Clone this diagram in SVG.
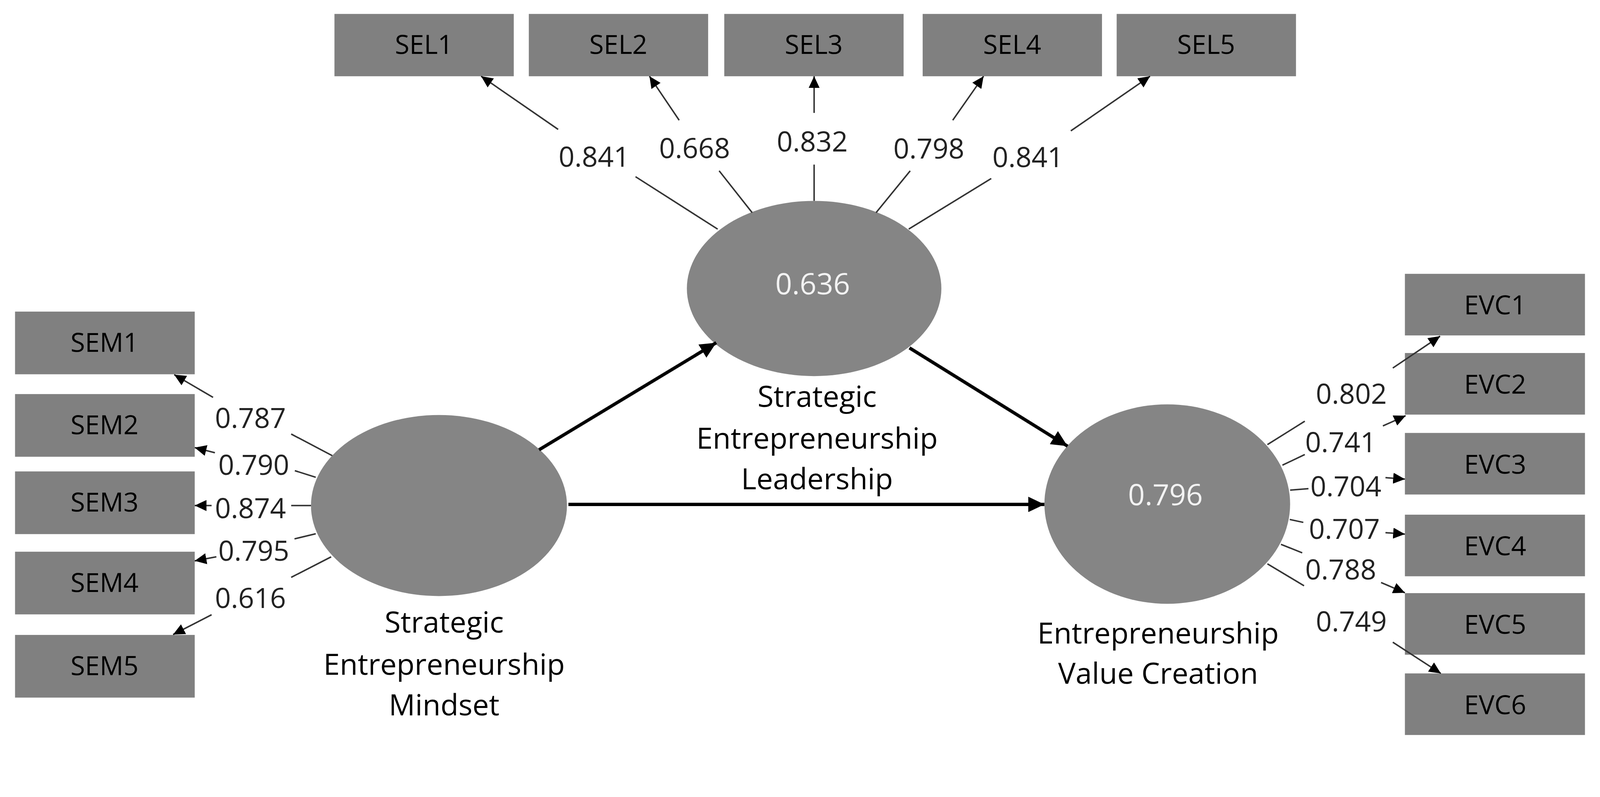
<svg xmlns="http://www.w3.org/2000/svg" width="4363" height="2041" viewBox="0 0 4363 2041" style="max-width:100%;height:auto">
<style>
.box{fill:#808080}
.lat{fill:#858585}
.bt{font-family:"Open Sans","Noto Sans",sans-serif;font-size:72px;fill:#000;text-anchor:middle}
.ld{font-family:"Open Sans","Noto Sans",sans-serif;font-size:76px;fill:#222;text-anchor:middle}
.cn{font-family:"Open Sans","Noto Sans",sans-serif;font-size:80px;fill:#000;text-anchor:middle}
.r2{font-family:"Open Sans","Noto Sans",sans-serif;font-size:80px;fill:#f2f2f2;text-anchor:middle}
.thin{stroke:#333;stroke-width:4;fill:none}
.arr{marker-end:url(#ah)}
.bold{stroke:#000;stroke-width:9;fill:none;marker-end:url(#bh)}
</style>
<defs>
<marker id="ah" markerUnits="userSpaceOnUse" markerWidth="34" markerHeight="30" refX="32" refY="15" orient="auto">
<path d="M0,0 L32,15 L0,30 Z" fill="#000"/>
</marker>
<marker id="bh" markerUnits="userSpaceOnUse" markerWidth="46" markerHeight="42" refX="44" refY="21" orient="auto">
<path d="M0,0 L44,21 L0,42 Z" fill="#000"/>
</marker>
</defs>
<rect width="4363" height="2041" fill="#fff"/>

<g id="SEL1"><rect class="box" x="912" y="38" width="489" height="170"/><text class="bt" x="1156" y="147">SEL1</text></g>
<g id="SEL2"><rect class="box" x="1442" y="38" width="489" height="170"/><text class="bt" x="1686" y="147">SEL2</text></g>
<g id="SEL3"><rect class="box" x="1975" y="38" width="489" height="170"/><text class="bt" x="2219" y="147">SEL3</text></g>
<g id="SEL4"><rect class="box" x="2516" y="38" width="489" height="170"/><text class="bt" x="2760" y="147">SEL4</text></g>
<g id="SEL5"><rect class="box" x="3045" y="38" width="489" height="170"/><text class="bt" x="3289" y="147">SEL5</text></g>

<g id="SEM1"><rect class="box" x="41" y="850" width="490" height="171"/><text class="bt" x="285" y="960">SEM1</text></g>
<g id="SEM2"><rect class="box" x="41" y="1075" width="490" height="171"/><text class="bt" x="285" y="1185">SEM2</text></g>
<g id="SEM3"><rect class="box" x="41" y="1286" width="490" height="171"/><text class="bt" x="285" y="1396">SEM3</text></g>
<g id="SEM4"><rect class="box" x="41" y="1505" width="490" height="171"/><text class="bt" x="285" y="1615">SEM4</text></g>
<g id="SEM5"><rect class="box" x="41" y="1732" width="490" height="171"/><text class="bt" x="285" y="1842">SEM5</text></g>

<g id="EVC1"><rect class="box" x="3831" y="747" width="491" height="168"/><text class="bt" x="4077" y="858">EVC1</text></g>
<g id="EVC2"><rect class="box" x="3831" y="963" width="491" height="168"/><text class="bt" x="4077" y="1074">EVC2</text></g>
<g id="EVC3"><rect class="box" x="3831" y="1181" width="491" height="168"/><text class="bt" x="4077" y="1292">EVC3</text></g>
<g id="EVC4"><rect class="box" x="3831" y="1404" width="491" height="168"/><text class="bt" x="4077" y="1515">EVC4</text></g>
<g id="EVC5"><rect class="box" x="3831" y="1618" width="491" height="168"/><text class="bt" x="4077" y="1729">EVC5</text></g>
<g id="EVC6"><rect class="box" x="3831" y="1837" width="491" height="168"/><text class="bt" x="4077" y="1948">EVC6</text></g>

<g id="SEL">
<ellipse class="lat" cx="2220" cy="787" rx="347" ry="239"/>
<text class="r2" x="2216" y="803">0.636</text>
<text class="cn" x="2228" y="1110">Strategic</text>
<text class="cn" x="2228" y="1224">Entrepreneurship</text>
<text class="cn" x="2228" y="1335">Leadership</text>
</g>
<g id="SEM">
<ellipse class="lat" cx="1197" cy="1379" rx="349" ry="247"/>
<text class="cn" x="1211" y="1726">Strategic</text>
<text class="cn" x="1211" y="1841">Entrepreneurship</text>
<text class="cn" x="1211" y="1952">Mindset</text>
</g>
<g id="EVC">
<ellipse class="lat" cx="3183" cy="1375" rx="335" ry="272"/>
<text class="r2" x="3178" y="1378">0.796</text>
<text class="cn" x="3158" y="1755">Entrepreneurship</text>
<text class="cn" x="3158" y="1865">Value Creation</text>
</g>

<g id="connectors">
<line class="bold" x1="1470" y1="1227" x2="1953" y2="935"/>
<line class="bold" x1="2480" y1="949" x2="2911" y2="1217"/>
<line class="bold" x1="1550" y1="1376" x2="2848" y2="1376"/>

<line class="thin" x1="1957" y1="625" x2="1733" y2="482"/>
<line class="thin arr" x1="1522" y1="353" x2="1312" y2="208"/>
<line class="thin" x1="2051" y1="580" x2="1961" y2="466"/>
<line class="thin arr" x1="1852" y1="328" x2="1771" y2="208"/>
<line class="thin" x1="2220" y1="548" x2="2220" y2="449"/>
<line class="thin arr" x1="2220" y1="308" x2="2220" y2="208"/>
<line class="thin" x1="2389" y1="580" x2="2482" y2="466"/>
<line class="thin arr" x1="2598" y1="328" x2="2682" y2="208"/>
<line class="thin" x1="2478" y1="625" x2="2703" y2="487"/>
<line class="thin arr" x1="2920" y1="357" x2="3136" y2="208"/>

<line class="thin" x1="906" y1="1243" x2="794" y2="1184"/>
<line class="thin arr" x1="581" y1="1084" x2="475" y2="1022"/>
<line class="thin" x1="861" y1="1302" x2="804" y2="1284"/>
<line class="thin arr" x1="586" y1="1235" x2="531" y2="1221"/>
<line class="thin" x1="848" y1="1379" x2="794" y2="1379"/>
<line class="thin arr" x1="577" y1="1379" x2="531" y2="1379"/>
<line class="thin" x1="861" y1="1456" x2="803" y2="1470"/>
<line class="thin arr" x1="590" y1="1519" x2="531" y2="1530"/>
<line class="thin" x1="903" y1="1519" x2="794" y2="1575"/>
<line class="thin arr" x1="577" y1="1677" x2="472" y2="1731"/>

<line class="thin" x1="3456" y1="1213" x2="3558" y2="1149"/>
<line class="thin arr" x1="3798" y1="1004" x2="3927" y2="917"/>
<line class="thin" x1="3497" y1="1269" x2="3558" y2="1240"/>
<line class="thin arr" x1="3771" y1="1162" x2="3833" y2="1134"/>
<line class="thin" x1="3518" y1="1337" x2="3568" y2="1333"/>
<line class="thin arr" x1="3778" y1="1303" x2="3831" y2="1307"/>
<line class="thin" x1="3517" y1="1417" x2="3554" y2="1425"/>
<line class="thin arr" x1="3778" y1="1453" x2="3831" y2="1457"/>
<line class="thin" x1="3493" y1="1485" x2="3551" y2="1508"/>
<line class="thin arr" x1="3766" y1="1589" x2="3831" y2="1617"/>
<line class="thin" x1="3456" y1="1538" x2="3556" y2="1598"/>
<line class="thin arr" x1="3798" y1="1752" x2="3929" y2="1837"/>
</g>

<g id="loadings">
<text class="ld" x="1620" y="455">0.841</text>
<text class="ld" x="1894" y="431">0.668</text>
<text class="ld" x="2215" y="413">0.832</text>
<text class="ld" x="2533" y="432">0.798</text>
<text class="ld" x="2803" y="456">0.841</text>
<text class="ld" x="683" y="1168">0.787</text>
<text class="ld" x="692" y="1295">0.790</text>
<text class="ld" x="683" y="1414">0.874</text>
<text class="ld" x="692" y="1530">0.795</text>
<text class="ld" x="683" y="1659">0.616</text>
<text class="ld" x="3685" y="1102">0.802</text>
<text class="ld" x="3656" y="1234">0.741</text>
<text class="ld" x="3670" y="1354">0.704</text>
<text class="ld" x="3666" y="1470">0.707</text>
<text class="ld" x="3656" y="1581">0.788</text>
<text class="ld" x="3685" y="1722">0.749</text>
</g>
</svg>
